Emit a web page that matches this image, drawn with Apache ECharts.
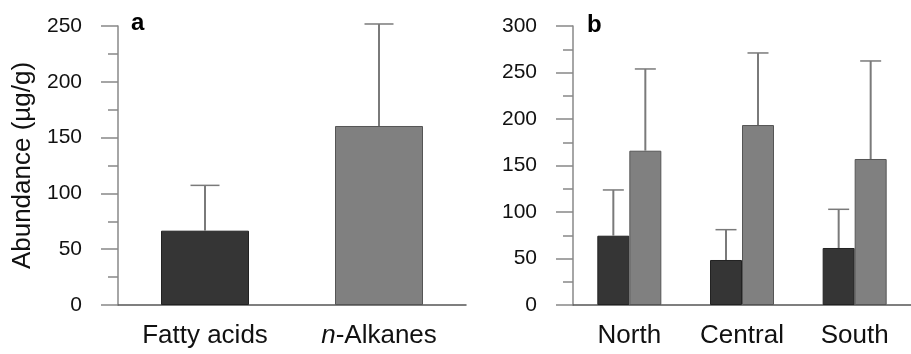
<!DOCTYPE html>
<html>
<head>
<meta charset="utf-8">
<script src="https://cdn.jsdelivr.net/npm/echarts@6/dist/echarts.min.js"></script>
<style>
  html, body { margin: 0; padding: 0; background: #fff; }
  #chart { width: 911px; height: 354px; }
</style>
</head>
<body>
<div id="chart"></div>
<script>
  // panel a: totals
  var catsA = ['Fatty acids', 'n-Alkanes'];
  var meanA = [66.6, 160.4];
  var sdA = [40.6, 91.4];

  // panel b: by region
  var catsB = ['North', 'Central', 'South'];
  var fattyB = [74.5, 48.4, 61.3];
  var fattySdB = [49.2, 32.6, 41.6];
  var alkB = [165.9, 193.5, 157.0];
  var alkSdB = [87.9, 77.5, 105.4];

  var font = 'Liberation Sans, Arial, sans-serif';
  var dark = '#353535';
  var grey = '#808080';
  var errColor = '#7a7a7a';

  function errData(means, sds) {
    return means.map(function (m, i) { return [i, m, m + sds[i]]; });
  }

  // draws upper error bar only, shifted by dx px from band centre
  function errRender(dx, cap) {
    return function (params, api) {
      var lo = api.coord([api.value(0), api.value(1)]);
      var hi = api.coord([api.value(0), api.value(2)]);
      var x = lo[0] + dx;
      return {
        type: 'group',
        children: [
          { type: 'line', shape: { x1: x, y1: lo[1], x2: x, y2: hi[1] }, style: { stroke: errColor, lineWidth: 2 } },
          { type: 'line', shape: { x1: x - cap, y1: hi[1], x2: x + cap, y2: hi[1] }, style: { stroke: errColor, lineWidth: 1.5 } }
        ]
      };
    };
  }

  function yAxisCfg(idx, max) {
    return {
      type: 'value', gridIndex: idx, min: 0, max: max, interval: 50,
      axisLine: { show: true, lineStyle: { color: '#888', width: 1.5 } },
      axisTick: { show: true, length: 17, lineStyle: { color: '#888', width: 1.5 } },
      minorTick: { show: true, splitNumber: 2, length: 10, lineStyle: { color: '#888', width: 1.5 } },
      splitLine: { show: false },
      axisLabel: { margin: 36, fontSize: 21, color: '#111', fontFamily: font }
    };
  }

  function xAxisCfg(idx, cats) {
    return {
      type: 'category', gridIndex: idx, data: cats,
      axisLine: { show: true, lineStyle: { color: '#555', width: 1.5 } },
      axisTick: { show: false },
      axisLabel: {
        margin: 18, fontSize: 26, color: '#111', fontFamily: font, interval: 0,
        formatter: function (v) {
          return v === 'n-Alkanes' ? '{i|n}-Alkanes' : v;
        },
        rich: { i: { fontStyle: 'italic', fontSize: 26, color: '#111', fontFamily: font } }
      }
    };
  }

  var chart = echarts.init(document.getElementById('chart'));
  var ya = yAxisCfg(0, 250);
  ya.name = 'Abundance (µg/g)';
  ya.nameLocation = 'middle';
  ya.nameGap = 82;
  ya.nameRotate = 90;
  ya.nameTextStyle = { fontSize: 26, color: '#111', fontFamily: font };

  chart.setOption({
    animation: false,
    backgroundColor: '#fff',
    title: [
      { text: 'a', left: 126, top: 6, textStyle: { fontSize: 24, fontWeight: 'bold', color: '#000', fontFamily: font } },
      { text: 'b', left: 582, top: 8, textStyle: { fontSize: 24, fontWeight: 'bold', color: '#000', fontFamily: font } }
    ],
    grid: [
      { left: 118, top: 26, width: 348, height: 279 },
      { left: 573, top: 26, width: 348, height: 279 }
    ],
    xAxis: [xAxisCfg(0, catsA), xAxisCfg(1, catsB)],
    yAxis: [ya, yAxisCfg(1, 300)],
    series: [
      {
        type: 'bar', xAxisIndex: 0, yAxisIndex: 0, barWidth: 88,
        data: meanA.map(function (v, i) {
          return { value: v, itemStyle: { color: i === 0 ? dark : grey, borderColor: i === 0 ? '#222' : '#555' } };
        }),
        itemStyle: { borderWidth: 1 }
      },
      {
        type: 'custom', xAxisIndex: 0, yAxisIndex: 0, z: 3,
        renderItem: errRender(0, 14.5),
        data: errData(meanA, sdA)
      },
      {
        name: 'Fatty acids', type: 'bar', xAxisIndex: 1, yAxisIndex: 1,
        barWidth: 32, barGap: '0%', data: fattyB,
        itemStyle: { color: dark, borderColor: '#222', borderWidth: 1 }
      },
      {
        name: 'n-Alkanes', type: 'bar', xAxisIndex: 1, yAxisIndex: 1,
        barWidth: 32, barGap: '0%', data: alkB,
        itemStyle: { color: grey, borderColor: '#555', borderWidth: 1 }
      },
      {
        type: 'custom', xAxisIndex: 1, yAxisIndex: 1, z: 3,
        renderItem: errRender(-16, 10.5),
        data: errData(fattyB, fattySdB)
      },
      {
        type: 'custom', xAxisIndex: 1, yAxisIndex: 1, z: 3,
        renderItem: errRender(16, 10.5),
        data: errData(alkB, alkSdB)
      }
    ]
  });
</script>
</body>
</html>
